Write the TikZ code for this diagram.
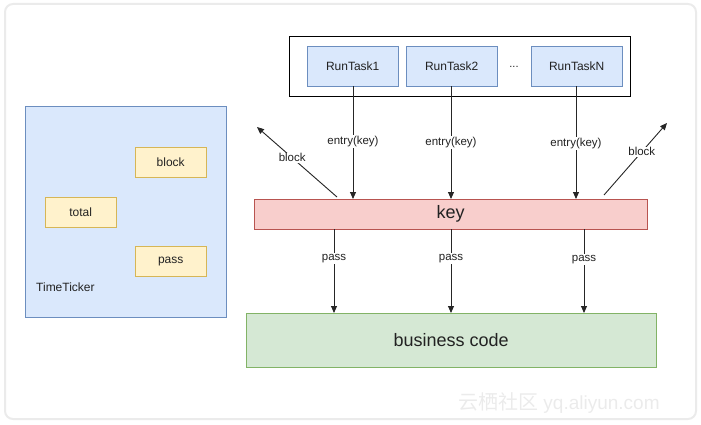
\documentclass[tikz,border=0pt]{standalone}
\usepackage{fontspec}
\setmainfont{Liberation Sans}
\newfontfamily\cjkfont{Noto Sans CJK SC}
\usetikzlibrary{arrows.meta}
\definecolor{bluefill}{HTML}{DAE8FC}
\definecolor{blueline}{HTML}{6C8EBF}
\definecolor{yelfill}{HTML}{FFF2CC}
\definecolor{yelline}{HTML}{D6B656}
\definecolor{redfill}{HTML}{F8CECC}
\definecolor{redline}{HTML}{B85450}
\definecolor{grnfill}{HTML}{D5E8D4}
\definecolor{grnline}{HTML}{82B366}
\definecolor{txt}{HTML}{222222}
\tikzset{
  box/.style={draw, inner sep=0pt, anchor=north west, text=txt},
  task/.style={box, draw=blueline, fill=bluefill, minimum width=91pt, minimum height=40pt, font=\fontsize{12}{14}\selectfont},
  ybox/.style={box, draw=yelline, fill=yelfill, minimum width=71pt, minimum height=30pt, font=\fontsize{12}{14}\selectfont},
  arr/.style={-{Triangle[width=6pt,length=7pt]}, draw=black!85, line width=0.9pt},
  lbl/.style={fill=white, inner sep=1pt, font=\fontsize{11.5}{13}\selectfont, text=txt},
}
\begin{document}
\begin{tikzpicture}[x=1pt,y=-1pt]
\useasboundingbox (0,0) rectangle (701,425);
\draw[draw=black!8, line width=2pt, rounded corners=8pt] (5,4) rectangle (696,419);
% watermark
\node[anchor=west, text=black!8, inner sep=0pt, font=\fontsize{19}{20}\selectfont] (wm) at (458,403) {{\cjkfont\fontsize{20}{20}\selectfont 云栖社区} yq.aliyun.com};
% top container
\node[box, draw=black, fill=white, minimum width=341pt, minimum height=60pt, line width=0.8pt] (cont) at (289,36) {};
\node[task] (t1) at (307,46) {RunTask1};
\node[task] (t2) at (406,46) {RunTask2};
\node[task] (tn) at (531,46) {RunTaskN};
\node[text=txt, font=\fontsize{11}{13}\selectfont] (dots) at (514,67) {...};
% key
\node[box, draw=redline, fill=redfill, minimum width=393pt, minimum height=30pt, font=\fontsize{18}{20}\selectfont] (key) at (254,199) {key};
% business
\node[box, draw=grnline, fill=grnfill, minimum width=410pt, minimum height=54pt, font=\fontsize{18}{20}\selectfont] (biz) at (246,313) {business code};
% TimeTicker
\node[box, draw=blueline, fill=bluefill, minimum width=201pt, minimum height=211pt] (tt) at (25,106) {};
\node[ybox] (yb) at (135,147) {block};
\node[ybox] (yt) at (45,197) {total};
\node[ybox] (yp) at (135,246) {pass};
\node[anchor=west, inner sep=0pt, text=txt, font=\fontsize{12}{14}\selectfont] (ttl) at (36,287) {TimeTicker};
% entry arrows
\coordinate (e1) at (353,199);
\coordinate (e2) at (451,199);
\coordinate (e3) at (576,199);
\draw[arr] (t1.south -| e1) -- node[lbl, pos=0.49] {entry(key)} (e1);
\draw[arr] (t2.south -| e2) -- node[lbl, pos=0.5] {entry(key)} (e2);
\draw[arr] (tn.south -| e3) -- node[lbl, pos=0.51] {entry(key)} (e3);
% pass arrows
\coordinate (p1) at (334,229);
\coordinate (p2) at (451,229);
\coordinate (p3) at (584,229);
\draw[arr] (p1) -- node[lbl, pos=0.35] {pass} (biz.north -| p1);
\draw[arr] (p2) -- node[lbl, pos=0.35] {pass} (biz.north -| p2);
\draw[arr] (p3) -- node[lbl, pos=0.36] {pass} (biz.north -| p3);
% block arrows
\coordinate (bl0) at (337,197);
\coordinate (bl1) at (257,127);
\coordinate (br0) at (604,195);
\coordinate (br1) at (667,123);
\draw[arr] (bl0) -- node[lbl, pos=0.56] {block} (bl1);
\draw[arr] (br0) -- node[lbl, pos=0.6] {block} (br1);
\end{tikzpicture}
\end{document}
